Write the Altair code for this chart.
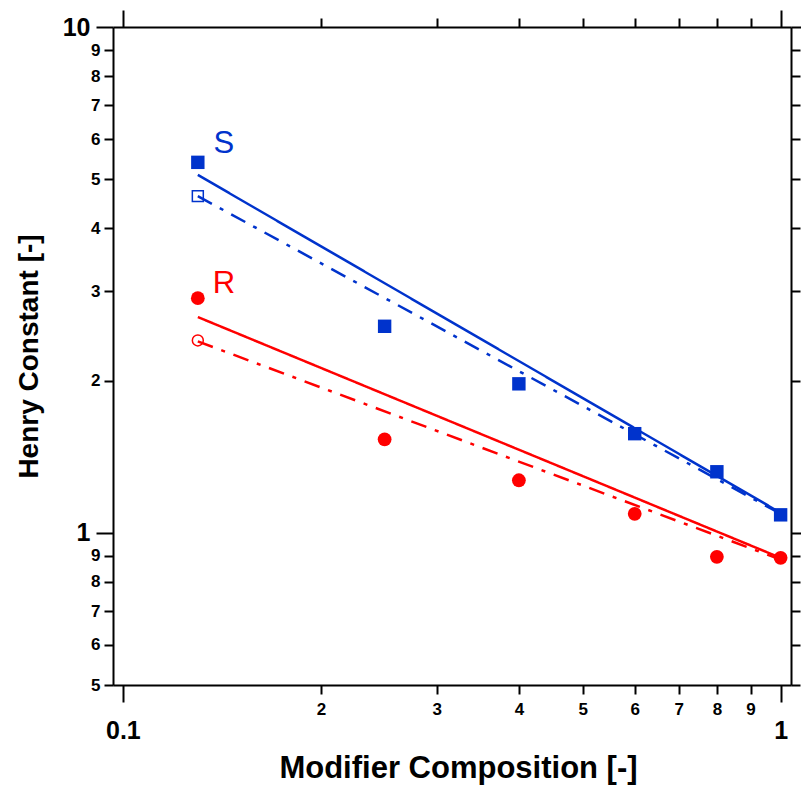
import altair as alt
import pandas as pd

# ---- data ----
x_pts = [0.13, 0.25, 0.4, 0.6, 0.8, 1.0]
s_filled = [5.40, 2.56, 1.97, 1.57, 1.32, 1.085]
r_filled = [2.91, 1.53, 1.27, 1.09, 0.896, 0.892]
open_x = [0.13]
s_open = [4.63]
r_open = [2.40]
fit_x = [0.13, 1.0]
s_fit_solid = [5.10, 1.095]
s_fit_dash = [4.63, 1.09]
r_fit_solid = [2.67, 0.892]
r_fit_dash = [2.39, 0.885]
label_text = ["S", "R"]
label_x = [0.1424, 0.1424]
label_y = [5.87, 3.11]
x_ticks = [0.1, 0.2, 0.3, 0.4, 0.5, 0.6, 0.7, 0.8, 0.9, 1.0]
y_ticks = [0.5, 0.6, 0.7, 0.8, 0.9, 1, 2, 3, 4, 5, 6, 7, 8, 9, 10]

BLUE = "#0033cc"
RED = "#ff0000"
FONT = "Liberation Sans"

pts_s = pd.DataFrame({"x": x_pts, "y": s_filled})
pts_r = pd.DataFrame({"x": x_pts, "y": r_filled})
open_s = pd.DataFrame({"x": open_x, "y": s_open})
open_r = pd.DataFrame({"x": open_x, "y": r_open})
fits = pd.concat([
    pd.DataFrame({"x": fit_x, "y": s_fit_solid, "series": "S", "style": "solid"}),
    pd.DataFrame({"x": fit_x, "y": s_fit_dash, "series": "S", "style": "dashdot"}),
    pd.DataFrame({"x": fit_x, "y": r_fit_solid, "series": "R", "style": "solid"}),
    pd.DataFrame({"x": fit_x, "y": r_fit_dash, "series": "R", "style": "dashdot"}),
])
fits["key"] = fits["series"] + fits["style"]
labels = pd.DataFrame({"x": label_x, "y": label_y, "t": label_text})

xs = alt.Scale(type="log", domain=[0.0966, 1.037], nice=False)
ys = alt.Scale(type="log", domain=[0.5, 10], nice=False)

MAJ_X = "datum.value < 0.15 || datum.value > 0.95"
MAJ_Y = "(datum.value > 0.95 && datum.value < 1.05) || datum.value > 9.5"


def cond(test, a, b):
    return {"condition": {"test": test, "value": a}, "value": b}


common = dict(domainColor="black", domainWidth=2, tickColor="black", tickWidth=2,
              labelColor="black", labelFont=FONT, labelFontWeight="bold", grid=False,
              labelBound=False, labelOverlap=False, labelFlush=False)

x_bottom = alt.Axis(
    orient="bottom", values=x_ticks,
    labelExpr="datum.value < 0.15 ? '0.1' : (datum.value > 0.95 ? '1' : '' + round(datum.value*10))",
    labelFontSize=cond(MAJ_X, 25, 17), tickSize=cond(MAJ_X, 17, 9),
    labelPadding=cond(MAJ_X, 16, 7),
    title="Modifier Composition [-]", titleFont=FONT, titleFontSize=31,
    titleFontWeight="bold", titleColor="black", titleBaseline="alphabetic",
    titleAlign="center", titleX=345, titleY=92, **common)
y_left = alt.Axis(
    orient="left", values=y_ticks,
    labelExpr="datum.value < 0.95 ? '' + round(datum.value*10) : '' + round(datum.value)",
    labelFontSize=cond(MAJ_Y, 25, 17), tickSize=cond(MAJ_Y, 17, 9),
    labelPadding=cond(MAJ_Y, 6, 4),
    title="Henry Constant [-]", titleFont=FONT, titleFontSize=28,
    titleFontWeight="bold", titleColor="black", titleBaseline="alphabetic",
    titleAlign="center", titleAngle=270, titleX=-76, titleY=329, **common)
x_top = alt.Axis(orient="top", values=x_ticks, labels=False, title=None,
                 tickSize=cond(MAJ_X, 17, 9), **common)
y_right = alt.Axis(orient="right", values=y_ticks, labels=False, title=None,
                   tickSize=cond(MAJ_Y, 17, 9), **common)

lines = alt.Chart(fits).mark_line(strokeWidth=2.5).encode(
    x=alt.X("x:Q", scale=xs, axis=x_bottom),
    y=alt.Y("y:Q", scale=ys, axis=y_left),
    color=alt.Color("series:N", scale=alt.Scale(domain=["S", "R"], range=[BLUE, RED]), legend=None),
    strokeDash=alt.StrokeDash("style:N", scale=alt.Scale(domain=["solid", "dashdot"],
                                                          range=[[1, 0], [16, 9, 4, 9]]), legend=None),
    detail="key:N",
)


def pts(df, shape, color, filled, size):
    if filled:
        m = alt.Chart(df).mark_point(shape=shape, filled=True, color=color, size=size, opacity=1)
    else:
        m = alt.Chart(df).mark_point(shape=shape, filled=False, color=color, size=size,
                                     strokeWidth=1.5, opacity=1)
    return m.encode(x=alt.X("x:Q", scale=xs, axis=None), y=alt.Y("y:Q", scale=ys, axis=None))


text = alt.Chart(labels).mark_text(font=FONT, fontSize=31, align="center", baseline="middle").encode(
    x=alt.X("x:Q", scale=xs, axis=x_top),
    y=alt.Y("y:Q", scale=ys, axis=y_right),
    text="t:N",
    color=alt.Color("t:N", scale=alt.Scale(domain=["S", "R"], range=[BLUE, RED]), legend=None),
)

chart = alt.layer(
    lines,
    pts(pts_s, "square", BLUE, True, 180),
    pts(pts_r, "circle", RED, True, 190),
    pts(open_s, "square", BLUE, False, 120),
    pts(open_r, "circle", RED, False, 120),
    text,
).resolve_axis(x="independent", y="independent").properties(
    width=678, height=658,
    autosize=alt.AutoSizeParams(type="none"),
    padding={"left": 113, "top": 27, "right": 10, "bottom": 101},
).configure_view(stroke=None).configure(background="white")

chart.save("out.html", embed_options={"renderer": "svg", "actions": False})
